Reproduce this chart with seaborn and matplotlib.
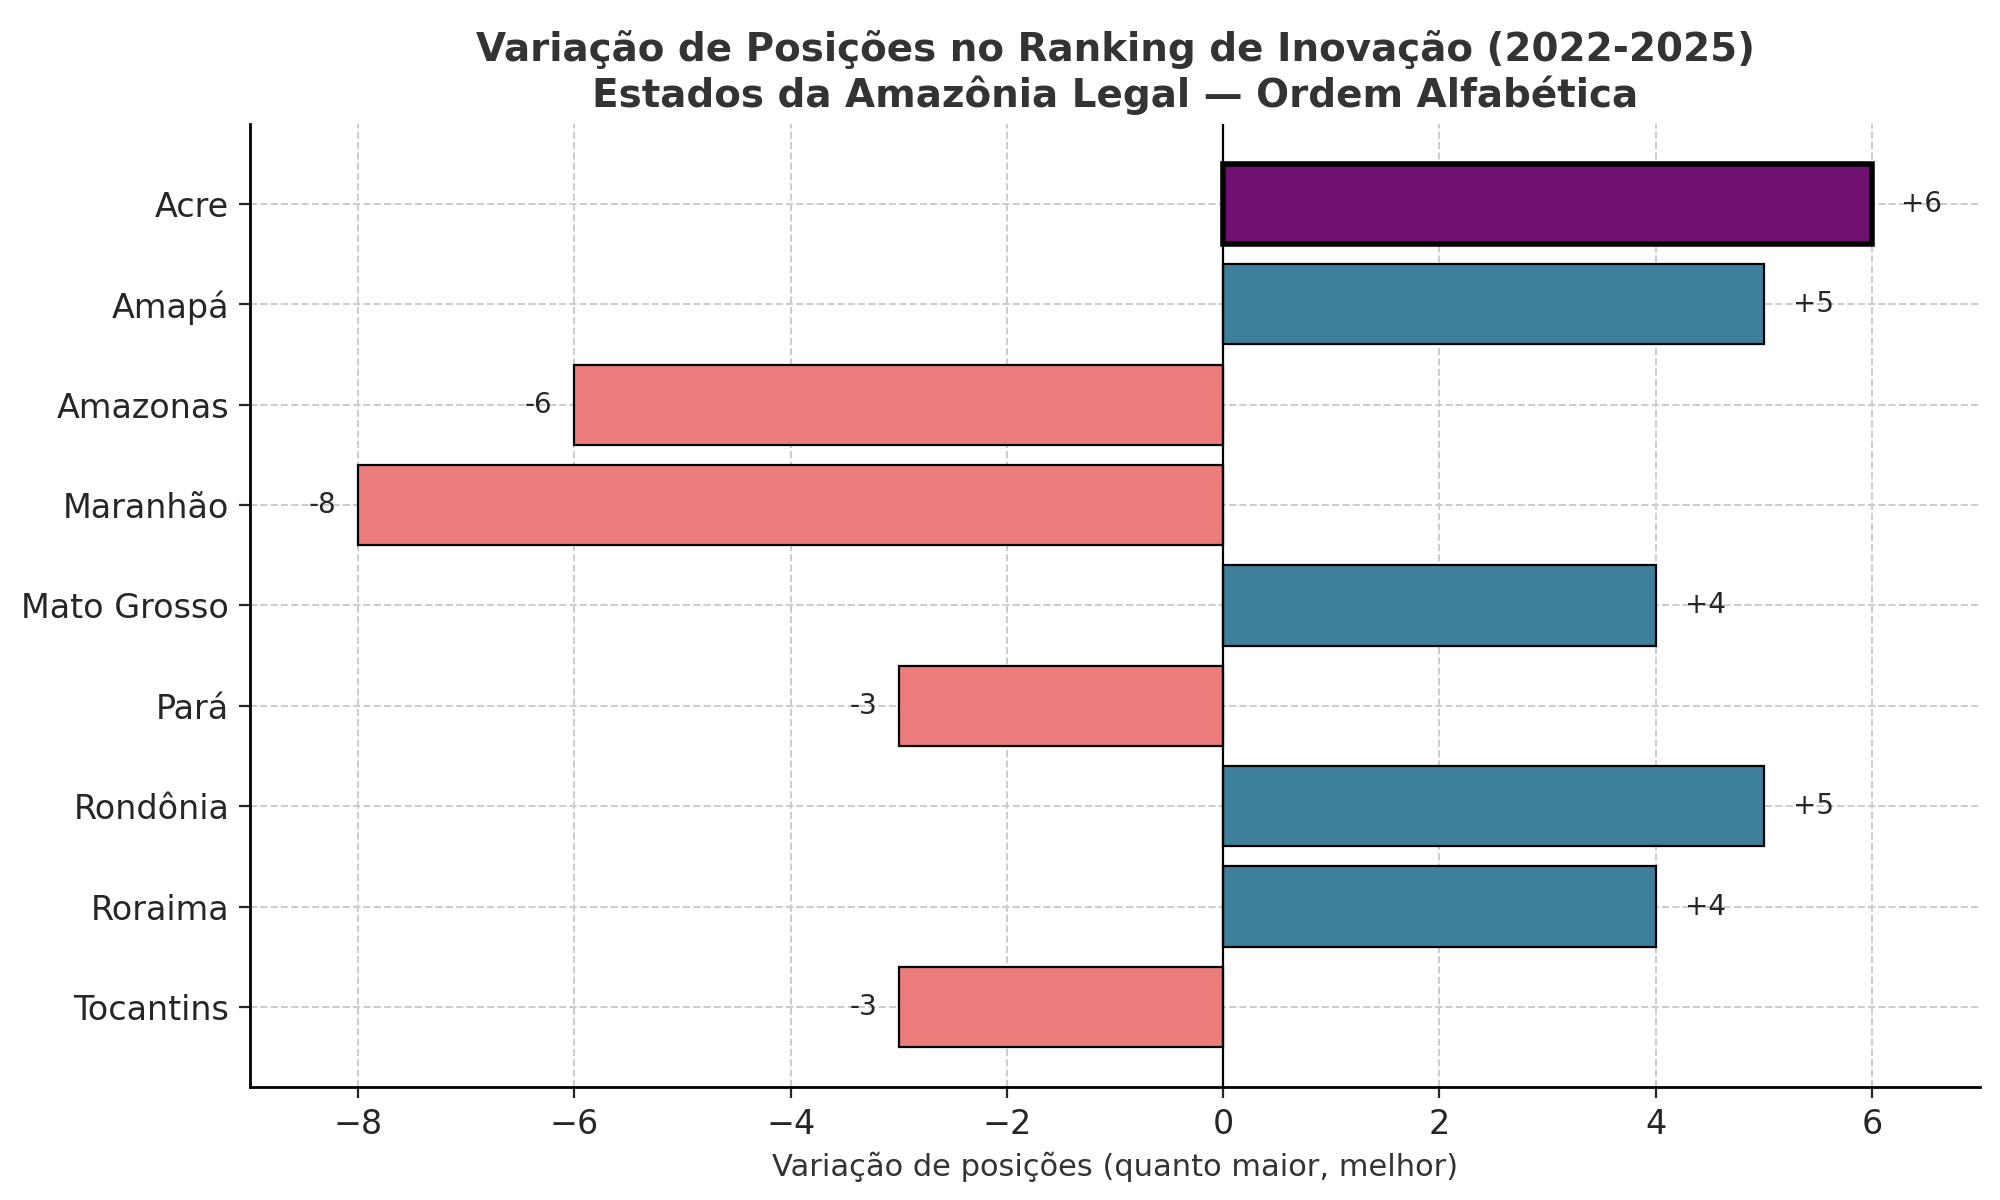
import matplotlib
matplotlib.use("Agg")
import matplotlib.pyplot as plt
import seaborn as sns
import pandas as pd

states = ["Acre", "Amapá", "Amazonas", "Maranhão", "Mato Grosso", "Pará", "Rondônia", "Roraima", "Tocantins"]
values = [6, 5, -6, -8, 4, -3, 5, 4, -3]

sns.set_style("white")
plt.rcParams['font.family'] = ['DejaVu Sans']
df = pd.DataFrame({"estado": states, "var": values})
colors = ["#800080" if s == "Acre" else ("#2E86AB" if v > 0 else "#FF6B6B") for s, v in zip(states, values)]

fig = plt.figure(figsize=(10, 6), dpi=200)
ax = fig.add_axes([0.125, 0.094, 0.865, 0.803])
sns.barplot(data=df, y="estado", x="var", hue="estado", palette=colors, legend=False,
            orient="h", width=0.8, edgecolor="black", linewidth=0.8, ax=ax, zorder=3)
for i, p in enumerate(ax.patches):
    if states[i] == "Acre" if i < len(states) else False:
        pass
for p in ax.patches:
    if abs(p.get_width() - 6) < 1e-9:
        p.set_linewidth(2)
for i, v in enumerate(values):
    if v > 0:
        ax.text(v + 0.27, i, f"+{v}", ha="left", va="center", fontsize=10, zorder=4)
    else:
        ax.text(v - 0.2, i, f"{v}", ha="right", va="center", fontsize=10, zorder=4)
ax.axvline(0, color="black", linewidth=0.8, zorder=4)
ax.set_xlim(-9, 7)
ax.set_ylim(8.8, -0.8)
ax.grid(True, linestyle="--", color="#cccccc", linewidth=0.7, zorder=0)
ax.set_axisbelow(True)
for s in ["top", "right"]:
    ax.spines[s].set_visible(False)
for s in ["left", "bottom"]:
    ax.spines[s].set_color("black")
    ax.spines[s].set_linewidth(1)
ax.tick_params(axis="both", labelsize=12, length=4, left=True, bottom=True)
ax.set_ylabel("")
ax.set_xlabel("Variação de posições (quanto maior, melhor)", fontsize=11, color="#333333")
ax.set_title("Variação de Posições no Ranking de Inovação (2022-2025)\nEstados da Amazônia Legal — Ordem Alfabética",
             fontsize=14, fontweight="bold", color="#333333")
fig.savefig("out.png", dpi=200)
